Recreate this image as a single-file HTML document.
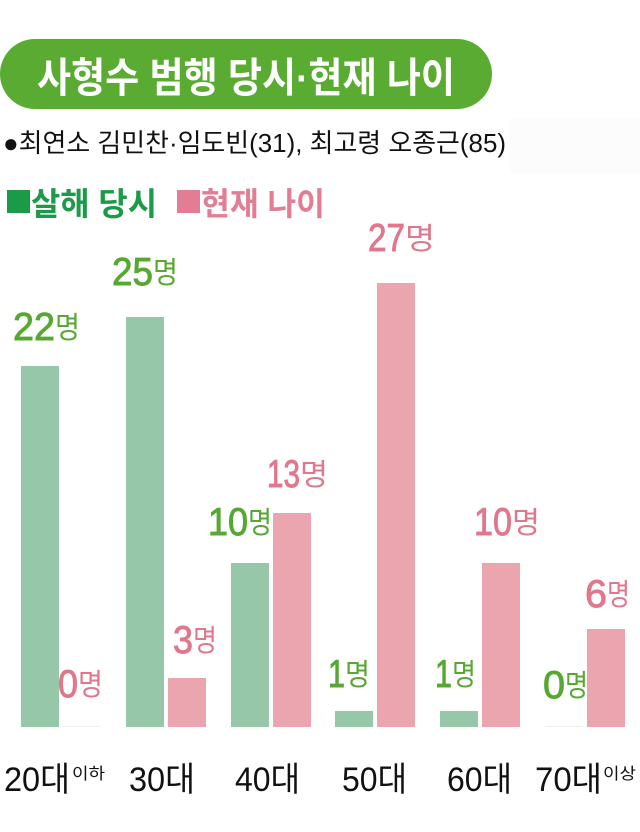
<!DOCTYPE html>
<html>
<head>
<meta charset="utf-8">
<style>
html,body{margin:0;padding:0;background:#fff;}
svg{display:block;}
</style>
</head>
<body>
<svg width="640" height="832" viewBox="0 0 640 832" xmlns="http://www.w3.org/2000/svg">
<rect x="0" y="0" width="640" height="832" fill="#ffffff"/>
<!-- faint box -->
<rect x="510" y="118" width="130" height="55" fill="#fcfcfc"/>

<!-- Title pill -->
<rect x="0" y="39" width="492" height="70" rx="35" ry="35" fill="#5aab32"/>
<text x="37" y="92" font-family="Liberation Sans, Noto Sans CJK KR, sans-serif" font-weight="bold" font-size="41" fill="#ffffff" textLength="418" lengthAdjust="spacingAndGlyphs">사형수 범행 당시·현재 나이</text>

<!-- subtitle -->
<text x="3" y="152" font-family="Liberation Sans, Noto Sans CJK KR, sans-serif" font-size="26" fill="#111" textLength="503" lengthAdjust="spacingAndGlyphs">●최연소 김민찬·임도빈(31), 최고령 오종근(85)</text>

<!-- legend -->
<rect x="7" y="190" width="23" height="23" fill="#1b9a48"/>
<text x="31" y="215" font-family="Liberation Sans, Noto Sans CJK KR, sans-serif" font-weight="bold" font-size="32" fill="#1b9a48" textLength="126" lengthAdjust="spacingAndGlyphs">살해 당시</text>
<rect x="177" y="190" width="23" height="23" fill="#e27d93"/>
<text x="201" y="215" font-family="Liberation Sans, Noto Sans CJK KR, sans-serif" font-weight="bold" font-size="32" fill="#e27d93" textLength="124" lengthAdjust="spacingAndGlyphs">현재 나이</text>

<!-- bars -->
<g fill="#97c7a9">
<rect x="21" y="366" width="38" height="361"/>
<rect x="126" y="317" width="38" height="410"/>
<rect x="231" y="563" width="38" height="164"/>
<rect x="335" y="711" width="38" height="16"/>
<rect x="440" y="711" width="38" height="16"/>
</g>
<g fill="#eba5ae">
<rect x="168" y="678" width="38" height="49"/>
<rect x="273" y="513" width="38" height="214"/>
<rect x="377" y="283" width="38" height="444"/>
<rect x="482" y="563" width="38" height="164"/>
<rect x="587" y="629" width="38" height="98"/>
</g>
<!-- faint zero lines -->
<rect x="62" y="726" width="38" height="1" fill="#f0eeee"/>
<rect x="545" y="726" width="38" height="1" fill="#f0eeee"/>

<!-- value labels green -->
<g font-family="Liberation Sans, sans-serif" font-size="39" fill="#56a832" stroke="#56a832" stroke-width="0.9">
<text x="13" y="340" textLength="42" lengthAdjust="spacingAndGlyphs">22</text>
<text x="112" y="285" textLength="41" lengthAdjust="spacingAndGlyphs">25</text>
<text x="208" y="535" textLength="40" lengthAdjust="spacingAndGlyphs">10</text>
<text x="328" y="687" textLength="17" lengthAdjust="spacingAndGlyphs">1</text>
<text x="435" y="687" textLength="17" lengthAdjust="spacingAndGlyphs">1</text>
<text x="543" y="698" textLength="22" lengthAdjust="spacingAndGlyphs">0</text>
</g>
<g font-family="Noto Sans CJK KR, sans-serif" font-size="30" fill="#56a832">
<text x="55" y="338" textLength="25" lengthAdjust="spacingAndGlyphs">명</text>
<text x="153" y="283" textLength="25" lengthAdjust="spacingAndGlyphs">명</text>
<text x="248" y="533" textLength="24" lengthAdjust="spacingAndGlyphs">명</text>
<text x="345" y="685" textLength="25" lengthAdjust="spacingAndGlyphs">명</text>
<text x="452" y="685" textLength="24" lengthAdjust="spacingAndGlyphs">명</text>
<text x="565" y="696" textLength="23" lengthAdjust="spacingAndGlyphs">명</text>
</g>

<!-- value labels pink -->
<g font-family="Liberation Sans, sans-serif" font-size="39" fill="#e0778c" stroke="#e0778c" stroke-width="0.9">
<text x="58" y="697" textLength="20" lengthAdjust="spacingAndGlyphs">0</text>
<text x="173" y="653" textLength="20" lengthAdjust="spacingAndGlyphs">3</text>
<text x="267" y="487" textLength="33" lengthAdjust="spacingAndGlyphs">13</text>
<text x="368" y="251" textLength="37" lengthAdjust="spacingAndGlyphs">27</text>
<text x="474" y="535" textLength="38" lengthAdjust="spacingAndGlyphs">10</text>
<text x="585" y="607" textLength="22" lengthAdjust="spacingAndGlyphs">6</text>
</g>
<g font-family="Noto Sans CJK KR, sans-serif" font-size="30" fill="#e0778c">
<text x="78" y="695" textLength="25" lengthAdjust="spacingAndGlyphs">명</text>
<text x="193" y="651" textLength="24" lengthAdjust="spacingAndGlyphs">명</text>
<text x="300" y="485" textLength="28" lengthAdjust="spacingAndGlyphs">명</text>
<text x="405" y="249" textLength="30" lengthAdjust="spacingAndGlyphs">명</text>
<text x="512" y="533" textLength="28" lengthAdjust="spacingAndGlyphs">명</text>
<text x="607" y="605" textLength="23" lengthAdjust="spacingAndGlyphs">명</text>
</g>

<!-- x axis labels -->
<g font-family="Liberation Sans, Noto Sans CJK KR, sans-serif" font-size="34" fill="#111">
<text x="4" y="791" textLength="66" lengthAdjust="spacingAndGlyphs">20대</text>
<text x="129" y="791" textLength="66" lengthAdjust="spacingAndGlyphs">30대</text>
<text x="235" y="791" textLength="65" lengthAdjust="spacingAndGlyphs">40대</text>
<text x="342" y="791" textLength="65" lengthAdjust="spacingAndGlyphs">50대</text>
<text x="447" y="791" textLength="65" lengthAdjust="spacingAndGlyphs">60대</text>
<text x="535" y="791" textLength="67" lengthAdjust="spacingAndGlyphs">70대</text>
</g>
<g font-family="Noto Sans CJK KR, sans-serif" font-size="16" fill="#111">
<text x="72" y="779" textLength="33" lengthAdjust="spacingAndGlyphs">이하</text>
<text x="603" y="779" textLength="33" lengthAdjust="spacingAndGlyphs">이상</text>
</g>
</svg>
</body>
</html>
